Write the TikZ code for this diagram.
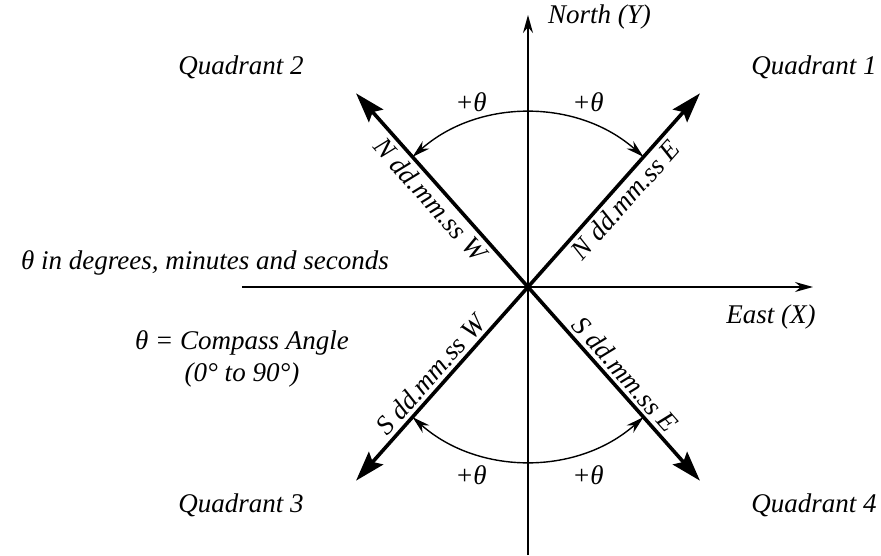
\documentclass[tikz,border=0pt]{standalone}
\usepackage{fontspec}
\setmainfont{LiberationSerif}[Extension=.ttf, UprightFont=*-Regular, ItalicFont=*-Italic, BoldFont=*-Bold]
\usetikzlibrary{arrows.meta}

\begin{document}
\begin{tikzpicture}[
    x=1pt, y=1pt,
    >=Stealth,
    every node/.style={font=\fontsize{27}{32}\selectfont\itshape, inner sep=3pt},
    axis/.style={line width=1.6pt, -{Stealth[length=18pt, width=10pt]}},
    bearing/.style={line width=3.6pt, -{Stealth[length=30pt, width=19pt, inset=5pt]}},
    sweep/.style={line width=1.4pt, {Stealth[length=18pt, width=10pt]}-{Stealth[length=18pt, width=10pt]}},
    bearinglabel/.style={inner sep=5pt},
]
\useasboundingbox (-528,-268) rectangle (353,287);

% ---- Axes ----
\coordinate (o) at (0,0);
\coordinate (south) at (0,-268);
\coordinate (north) at (0,272);
\coordinate (west) at (-286,0);
\coordinate (east) at (285,0);
\draw[axis] (south) -- (north);
\draw[axis] (west) -- (east);
\node[anchor=west] (northlabel) at (17,270) {North (Y)};
\node (eastlabel) at (243,-30) {East (X)};

% ---- Bearings ----
\coordinate (ne) at (48.4:259);
\coordinate (nw) at (131.6:259);
\coordinate (sw) at (228.4:259);
\coordinate (se) at (311.6:259);
\draw[bearing] (o) -- (ne);
\draw[bearing] (o) -- (nw);
\draw[bearing] (o) -- (sw);
\draw[bearing] (o) -- (se);
\node[bearinglabel, rotate=48.4, anchor=north] (nelabel) at (48.4:130) {N dd.mm.ss E};
\node[bearinglabel, rotate=-48.4, anchor=north] (nwlabel) at (131.6:130) {N dd.mm.ss W};
\node[bearinglabel, rotate=48.4, anchor=south] (swlabel) at (228.4:130) {S dd.mm.ss W};
\node[bearinglabel, rotate=-48.4, anchor=south] (selabel) at (311.6:130) {S dd.mm.ss E};

% ---- Angle arcs ----
\coordinate (arcnw) at (131.6:174);
\coordinate (arcsw) at (228.4:174);
\draw[sweep] (arcnw) arc[start angle=131.6, end angle=48.4, radius=174];
\draw[sweep] (arcsw) arc[start angle=228.4, end angle=311.6, radius=174];
\node (thetanw) at (-57,185) {+θ};
\node (thetane) at (60,185) {+θ};
\node (thetasw) at (-57,-188) {+θ};
\node (thetase) at (60,-188) {+θ};

% ---- Quadrants ----
\node (q1) at (286,220) {Quadrant 1};
\node (q2) at (-287,220) {Quadrant 2};
\node (q3) at (-287,-218) {Quadrant 3};
\node (q4) at (286,-218) {Quadrant 4};

% ---- Notes ----
\node (dmsnote) at (-323,24) {θ in degrees, minutes and seconds};
\node[align=center] (anglenote) at (-286,-72) {θ = Compass Angle\\(0° to 90°)};

\end{tikzpicture}
\end{document}
